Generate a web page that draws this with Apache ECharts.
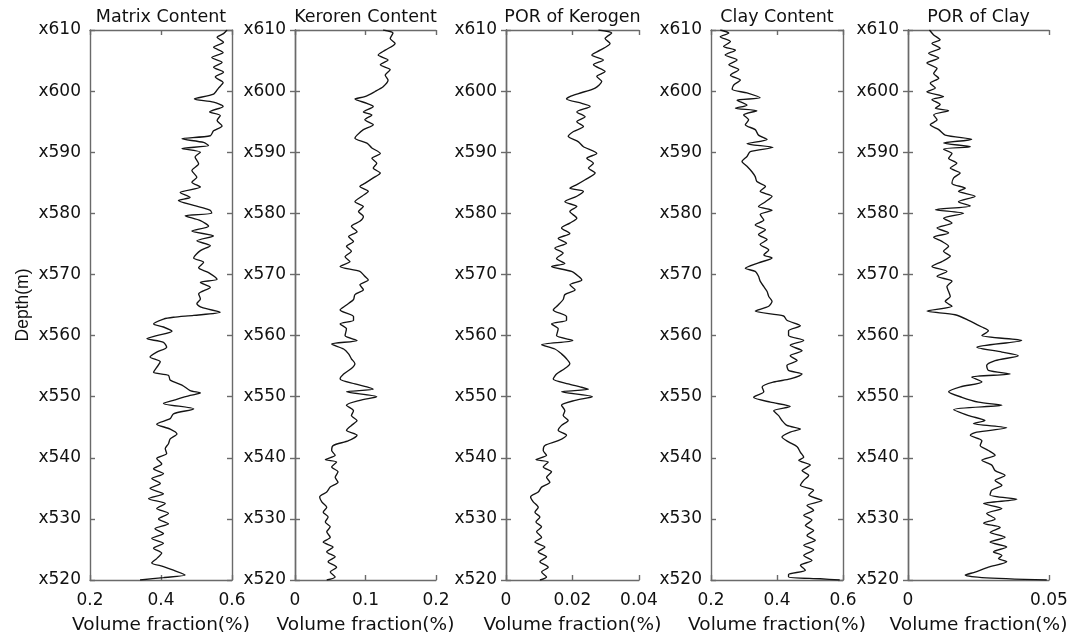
<!DOCTYPE html>
<html>
<head>
<meta charset="utf-8">
<script src="https://cdn.jsdelivr.net/npm/echarts@6.0.0/dist/echarts.min.js"></script>
<style>
html,body{margin:0;padding:0;background:#fff;}
#chart{width:1085px;height:642px;}
</style>
</head>
<body>
<div id="chart"></div>
<script>
// [depth (m, shown as xNNN), volume fraction]
const matrixContent = [
[610,0.586],[609.4,0.576],[608.8,0.558],[608.0,0.576],[607.2,0.548],[606.3,0.575],[605.5,0.543],[604.7,0.572],[603.9,0.548],[603.1,0.576],
[602.3,0.553],[601.4,0.575],[600.5,0.562],[599.5,0.548],[598.7,0.494],[598.2,0.548],[597.5,0.575],[596.6,0.537],[596.0,0.567],[595.2,0.558],
[594.3,0.572],[593.5,0.548],[592.7,0.539],[592.2,0.459],[591.6,0.520],[591.1,0.534],[590.6,0.459],[590.0,0.511],[589.2,0.496],[588.1,0.506],
[587.0,0.487],[585.9,0.501],[585.1,0.487],[584.3,0.511],[583.4,0.454],[582.6,0.482],[582.1,0.449],[581.3,0.492],[580.5,0.539],[580.0,0.543],
[579.6,0.468],[578.8,0.511],[577.9,0.534],[577.1,0.487],[576.3,0.548],[575.5,0.501],[574.7,0.539],[573.9,0.511],[572.7,0.492],[572.0,0.520],
[571.1,0.506],[570.3,0.534],[569.2,0.558],[568.7,0.511],[567.9,0.539],[566.8,0.506],[566.0,0.511],[565.2,0.501],[564.6,0.515],[563.8,0.567],
[563.3,0.492],[563.0,0.435],[562.7,0.407],[561.9,0.379],[561.4,0.407],[560.7,0.431],[560.0,0.388],[559.5,0.360],[558.9,0.407],[558.1,0.416],
[557.3,0.388],[556.5,0.369],[555.7,0.398],[554.8,0.388],[554.0,0.379],[553.5,0.421],[552.7,0.426],[551.9,0.459],[551.0,0.482],[550.6,0.511],
[550.2,0.482],[549.4,0.435],[548.9,0.407],[548.0,0.492],[547.2,0.435],[546.4,0.426],[545.5,0.388],[544.7,0.426],[543.9,0.445],[543.1,0.426],
[542.3,0.421],[541.5,0.412],[540.7,0.416],[539.9,0.388],[539.0,0.402],[538.2,0.379],[537.4,0.407],[536.6,0.374],[535.8,0.398],[535.0,0.369],
[534.1,0.407],[533.3,0.365],[532.5,0.412],[531.7,0.388],[530.9,0.421],[530.0,0.393],[529.2,0.421],[528.4,0.383],[527.6,0.407],[526.8,0.374],
[526.0,0.407],[525.2,0.379],[524.4,0.402],[523.5,0.388],[522.8,0.374],[522.2,0.407],[521.6,0.435],[520.8,0.468],[520.4,0.407],[520.0,0.341]
];
const kerogenContent = [
[610,0.125],[609.5,0.139],[608.6,0.135],[607.8,0.142],[606.7,0.128],[605.9,0.118],[605.1,0.132],[604.3,0.121],[603.5,0.135],[602.6,0.128],
[601.8,0.132],[600.7,0.125],[599.9,0.113],[599.1,0.099],[598.7,0.085],[598.0,0.102],[597.5,0.111],[596.6,0.097],[596.1,0.109],[595.3,0.099],
[594.5,0.111],[593.7,0.097],[592.8,0.088],[592.3,0.085],[591.5,0.102],[590.7,0.109],[589.8,0.121],[589.0,0.109],[588.2,0.116],[587.4,0.111],
[586.6,0.121],[585.8,0.111],[584.9,0.099],[584.4,0.092],[583.6,0.104],[582.8,0.095],[581.9,0.085],[581.1,0.097],[580.3,0.090],[579.5,0.097],
[578.7,0.092],[577.9,0.080],[577.0,0.088],[576.2,0.076],[575.4,0.083],[574.6,0.073],[573.8,0.080],[572.9,0.071],[572.1,0.078],[571.3,0.064],
[570.5,0.092],[569.7,0.099],[569.1,0.104],[568.3,0.092],[567.5,0.097],[566.7,0.085],[565.9,0.083],[565.0,0.073],[564.2,0.064],[563.1,0.083],
[562.5,0.083],[561.9,0.064],[561.1,0.073],[560.0,0.071],[559.2,0.088],[558.6,0.052],[557.8,0.069],[557.0,0.076],[556.2,0.080],[555.4,0.085],
[554.6,0.080],[553.7,0.069],[552.9,0.064],[552.1,0.085],[551.6,0.102],[551.2,0.111],[550.8,0.073],[550.0,0.116],[549.4,0.092],[548.6,0.073],
[547.7,0.083],[546.9,0.080],[546.1,0.088],[545.3,0.080],[544.5,0.073],[543.7,0.088],[542.8,0.076],[542.0,0.054],[541.2,0.052],[540.4,0.057],
[539.7,0.043],[539.3,0.059],[538.5,0.052],[537.7,0.061],[536.8,0.057],[536.0,0.061],[535.2,0.050],[534.4,0.045],[533.6,0.035],[532.8,0.038],
[531.9,0.045],[531.1,0.040],[530.3,0.047],[529.5,0.043],[528.7,0.050],[527.9,0.045],[527.0,0.050],[526.2,0.040],[525.4,0.054],[524.6,0.045],
[523.8,0.057],[523.0,0.047],[522.1,0.059],[521.3,0.050],[520.5,0.057],[520.0,0.045]
];
const porKerogen = [
[610,0.0278],[609.5,0.0318],[608.6,0.0298],[607.8,0.0313],[606.7,0.0283],[605.9,0.0258],[605.1,0.0293],[604.3,0.0263],[603.2,0.0298],[602.4,0.0273],
[601.6,0.0288],[600.5,0.0268],[599.6,0.0218],[599.1,0.0192],[598.7,0.0182],[598.0,0.0228],[597.5,0.0253],[596.6,0.0213],[595.8,0.0238],[595.0,0.0213],
[594.2,0.0233],[593.4,0.0203],[592.6,0.0187],[591.7,0.0218],[590.9,0.0233],[589.8,0.0273],[589.0,0.0243],[588.2,0.0263],[587.4,0.0248],[586.6,0.0268],
[585.5,0.0238],[584.7,0.0213],[584.1,0.0192],[583.6,0.0233],[582.8,0.0213],[581.9,0.0177],[581.1,0.0213],[580.3,0.0192],[579.2,0.0213],[578.4,0.0192],
[577.6,0.0167],[576.7,0.0192],[575.9,0.0157],[575.1,0.0182],[574.3,0.0147],[573.5,0.0172],[572.6,0.0152],[571.8,0.0177],[571.3,0.0137],[570.5,0.0197],
[569.7,0.0218],[569.1,0.0228],[568.3,0.0192],[567.5,0.0208],[566.7,0.0177],[565.9,0.0172],[565.0,0.0157],[564.2,0.0142],[563.1,0.0182],[562.5,0.0182],
[561.9,0.0137],[561.1,0.0157],[560.0,0.0152],[559.2,0.0201],[558.5,0.0107],[557.8,0.0147],[557.0,0.0167],[556.2,0.0182],[555.4,0.0192],[554.6,0.0177],
[553.7,0.0152],[552.9,0.0142],[552.1,0.0187],[551.6,0.0223],[551.2,0.0248],[550.8,0.0167],[550.0,0.0260],[549.4,0.0208],[548.6,0.0167],[547.7,0.0177],
[546.9,0.0172],[546.1,0.0187],[545.3,0.0167],[544.5,0.0157],[543.7,0.0182],[542.8,0.0157],[542.0,0.0117],[541.2,0.0112],[540.4,0.0122],[539.7,0.0090],
[539.3,0.0127],[538.5,0.0112],[537.7,0.0137],[536.8,0.0122],[536.0,0.0132],[535.2,0.0107],[534.4,0.0097],[533.6,0.0074],[532.8,0.0082],[531.9,0.0097],
[531.1,0.0087],[530.3,0.0102],[529.5,0.0090],[528.7,0.0107],[527.9,0.0092],[527.0,0.0107],[526.2,0.0087],[525.4,0.0117],[524.6,0.0097],[523.8,0.0122],
[523.0,0.0102],[522.1,0.0127],[521.3,0.0107],[520.5,0.0122],[520.0,0.0102]
];
const clayContent = [
[610.0,0.228],[609.5,0.254],[608.9,0.228],[608.1,0.259],[607.3,0.238],[606.7,0.274],[605.9,0.243],[605.1,0.279],[604.3,0.254],[603.5,0.284],
[602.6,0.259],[601.8,0.289],[601.0,0.269],[600.3,0.264],[599.7,0.309],[598.9,0.349],[598.5,0.279],[597.7,0.309],[597.2,0.274],[596.8,0.339],
[596.1,0.299],[595.3,0.314],[594.5,0.304],[593.7,0.334],[592.8,0.344],[592.1,0.370],[591.4,0.309],[590.8,0.388],[590.1,0.319],[589.3,0.309],
[588.5,0.294],[587.7,0.309],[586.8,0.324],[586.0,0.334],[585.2,0.339],[584.4,0.365],[583.6,0.349],[582.8,0.385],[581.9,0.365],[581.1,0.344],
[580.5,0.385],[579.8,0.349],[578.9,0.360],[578.1,0.334],[577.3,0.365],[576.5,0.344],[575.7,0.370],[574.9,0.349],[574.0,0.375],[573.2,0.360],
[572.7,0.385],[571.9,0.344],[571.0,0.304],[570.5,0.334],[569.7,0.344],[568.9,0.349],[568.0,0.360],[567.2,0.370],[566.4,0.375],[565.6,0.385],
[564.8,0.375],[564.0,0.334],[563.2,0.420],[562.5,0.430],[561.6,0.471],[560.8,0.435],[560.0,0.435],[559.2,0.481],[558.4,0.440],[557.5,0.476],
[556.7,0.440],[555.9,0.461],[555.1,0.430],[554.3,0.435],[553.7,0.476],[552.9,0.440],[552.4,0.390],[551.6,0.355],[550.8,0.360],[549.9,0.329],
[549.1,0.380],[548.4,0.440],[547.7,0.390],[546.9,0.405],[546.1,0.415],[545.3,0.430],[544.7,0.471],[544.2,0.440],[543.4,0.415],[542.6,0.435],
[541.8,0.461],[540.9,0.471],[540.1,0.481],[539.6,0.466],[538.8,0.501],[537.9,0.476],[537.1,0.496],[536.3,0.481],[535.5,0.471],[534.7,0.511],
[533.9,0.496],[533.0,0.536],[532.2,0.491],[531.4,0.511],[530.6,0.481],[529.8,0.506],[528.9,0.486],[528.1,0.511],[527.3,0.491],[526.5,0.516],
[525.7,0.481],[524.9,0.511],[524.0,0.481],[523.2,0.506],[522.4,0.471],[521.6,0.486],[520.9,0.435],[520.5,0.435],[520.2,0.531],[520.0,0.590]
];
const porClay = [
[610.0,0.0076],[609.2,0.0091],[608.4,0.0114],[607.8,0.0085],[607.0,0.0114],[606.2,0.0073],[605.4,0.0109],[604.6,0.0067],[603.7,0.0103],[602.9,0.0091],
[602.1,0.0109],[601.3,0.0079],[600.5,0.0097],[599.9,0.0067],[599.1,0.0126],[598.6,0.0085],[597.8,0.0114],[597.2,0.0097],[596.8,0.0144],[596.1,0.0091],
[595.3,0.0103],[594.5,0.0079],[593.7,0.0109],[592.8,0.0132],[592.1,0.0226],[591.5,0.0126],[590.9,0.0221],[590.5,0.0126],[589.8,0.0156],[589.0,0.0144],
[588.2,0.0173],[587.4,0.0150],[586.6,0.0185],[585.8,0.0162],[584.9,0.0156],[584.1,0.0203],[583.6,0.0179],[582.8,0.0238],[581.9,0.0179],[581.2,0.0221],
[580.6,0.0097],[580.0,0.0197],[579.2,0.0126],[578.4,0.0156],[577.6,0.0103],[576.8,0.0144],[576.1,0.0091],[575.4,0.0120],[574.6,0.0144],[573.8,0.0126],
[573.0,0.0150],[572.1,0.0120],[571.3,0.0085],[570.5,0.0138],[569.7,0.0103],[568.9,0.0156],[568.0,0.0138],[567.2,0.0144],[566.4,0.0150],[565.6,0.0132],
[564.8,0.0156],[564.0,0.0067],[563.4,0.0167],[562.5,0.0215],[561.4,0.0262],[560.8,0.0285],[560.0,0.0262],[559.2,0.0403],[558.1,0.0244],[557.3,0.0333],
[556.7,0.0391],[555.9,0.0309],[555.1,0.0279],[554.3,0.0285],[553.7,0.0362],[553.2,0.0226],[552.4,0.0262],[551.6,0.0186],[550.8,0.0144],[549.9,0.0191],
[549.1,0.0250],[548.6,0.0333],[547.9,0.0162],[546.9,0.0215],[546.1,0.0273],[545.6,0.0232],[544.9,0.0350],[544.2,0.0244],[543.7,0.0221],[542.8,0.0262],
[542.0,0.0256],[541.2,0.0285],[540.4,0.0309],[539.6,0.0262],[538.8,0.0297],[537.9,0.0309],[537.1,0.0344],[536.3,0.0309],[535.5,0.0333],[534.7,0.0297],
[533.9,0.0291],[533.2,0.0386],[532.5,0.0268],[531.7,0.0333],[530.9,0.0279],[530.0,0.0309],[529.3,0.0268],[528.6,0.0327],[527.8,0.0291],[527.0,0.0344],
[526.2,0.0291],[525.4,0.0350],[524.6,0.0303],[524.0,0.0333],[523.5,0.0321],[523.0,0.0350],[522.1,0.0285],[521.3,0.0238],[520.8,0.0203],[520.4,0.0262],
[520.0,0.0492]
];

const titles = ['Matrix Content','Keroren Content','POR of Kerogen','Clay Content','POR of Clay'];
const xRanges = [[0.2,0.6,0.2],[0,0.2,0.1],[0,0.04,0.02],[0.2,0.6,0.2],[0,0.05,0.05]];
const depthRange = [520,610,10];
const xName = 'Volume fraction(%)';
const yName = 'Depth(m)';
const seriesData = [matrixContent,kerogenContent,porKerogen,clayContent,porClay];

const layout = [[90,142],[295,141],[506,133],[711,132],[908,141]];
const FONT = '"DejaVu Sans", sans-serif';
const FONT2 = '"Liberation Sans", Arial, sans-serif';
const AX = '#6a6a6a';
const TXT = '#111';

const grid=[], xAxis=[], yAxis=[], series=[], title=[];
layout.forEach(([l,w],i)=>{
  grid.push({left:l, width:w, top:30, height:550, containLabel:false});
  title.push({text:titles[i], left:l+w/2, top:8, textAlign:'center', padding:0,
    textStyle:{fontFamily:FONT,fontSize:17.5,fontWeight:'normal',color:TXT}});
  const [mn,mx,iv]=xRanges[i];
  xAxis.push({type:'value', gridIndex:i, position:'bottom', min:mn, max:mx, interval:iv,
    name:xName, nameLocation:'middle', nameGap:36,
    nameTextStyle:{fontFamily:FONT,fontSize:18.5,color:TXT},
    axisLine:{show:true,lineStyle:{color:AX,width:1.4}},
    axisTick:{show:true,inside:true,length:5,lineStyle:{color:AX,width:1.4}},
    axisLabel:{fontFamily:FONT,fontSize:17,color:TXT,margin:12,hideOverlap:false},
    splitLine:{show:false}});
  xAxis.push({type:'value', gridIndex:i, position:'top', min:mn, max:mx, interval:iv,
    axisLine:{show:true,lineStyle:{color:AX,width:1.4}},
    axisTick:{show:true,inside:true,length:5,lineStyle:{color:AX,width:1.4}},
    axisLabel:{show:false}, splitLine:{show:false}});
  yAxis.push({type:'value', gridIndex:i, position:'left', min:depthRange[0], max:depthRange[1], interval:depthRange[2],
    name: i===0 ? yName : '', nameLocation:'middle', nameGap:58,
    nameTextStyle:{fontFamily:FONT2,fontSize:17.5,color:TXT},
    axisLine:{show:true,lineStyle:{color:AX,width:1.4}},
    axisTick:{show:true,inside:true,length:5,lineStyle:{color:AX,width:1.4}},
    axisLabel:{fontFamily:FONT,fontSize:17,color:TXT,margin:9,formatter:v=>'x'+v,hideOverlap:false},
    splitLine:{show:false}});
  yAxis.push({type:'value', gridIndex:i, position:'right', min:depthRange[0], max:depthRange[1], interval:depthRange[2],
    axisLine:{show:true,lineStyle:{color:AX,width:1.4}},
    axisTick:{show:true,inside:true,length:5,lineStyle:{color:AX,width:1.4}},
    axisLabel:{show:false}, splitLine:{show:false}});
  series.push({type:'line', xAxisIndex:2*i, yAxisIndex:2*i,
    data: seriesData[i].map(p=>[p[1],p[0]]),
    showSymbol:false, smooth:0.25, clip:true,
    lineStyle:{color:'#141414',width:1.35}});
});

const chart = echarts.init(document.getElementById('chart'),null,{renderer:'canvas'});
chart.setOption({animation:false, backgroundColor:'#fff', title, grid, xAxis, yAxis, series});
</script>
</body>
</html>
